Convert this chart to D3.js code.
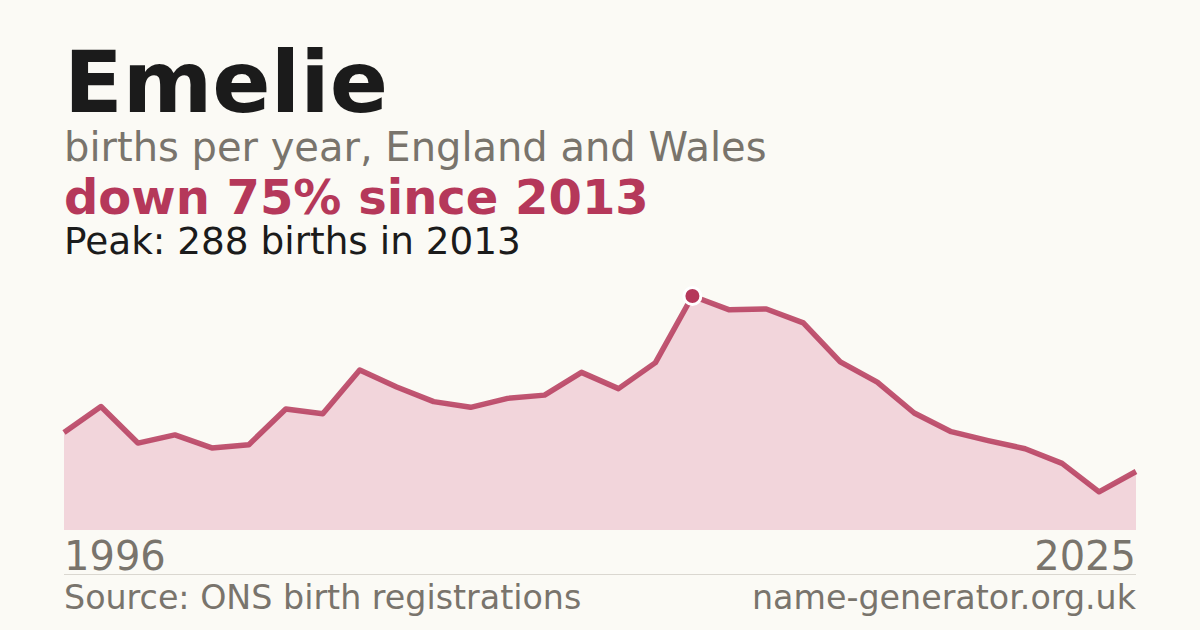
<!DOCTYPE html>
<html>
<head>
<meta charset="utf-8">
<script src="https://cdn.jsdelivr.net/npm/d3@7"></script>
<style>
  html, body { margin: 0; padding: 0; background: #fbfaf5; }
  svg { display: block; font-family: "DejaVu Sans", sans-serif; }
</style>
</head>
<body>
<div id="chart"></div>
<script>
// births per year, 1996..2025
const years = d3.range(1996, 2026);
const births = [120, 152, 107, 117, 101, 105, 149, 143, 197, 176,
                158, 151, 162, 166, 194, 174, 206, 288, 271, 272,
                255, 207, 182, 144, 121, 110, 100, 82, 47, 72];

const nameTitle = "Emelie";
const subtitle = "births per year, England and Wales";
const trendText = "down 75% since 2013";
const peakText = "Peak: 288 births in 2013";
const sourceText = "Source: ONS birth registrations";
const siteText = "name-generator.org.uk";

const width = 1200, height = 630;
const left = 64, right = 1136;
const baseY = 530, peakY = 296;

const svg = d3.select("#chart").append("svg")
    .attr("width", width)
    .attr("height", height)
    .style("background-color", "#fbfaf5");

const data = years.map((y, i) => ({ year: y, value: births[i] }));

const x = d3.scaleLinear().domain(d3.extent(years)).range([left, right]);
const y = d3.scaleLinear().domain([0, d3.max(births)]).range([baseY, peakY]);

// header
svg.append("text").attr("x", left).attr("y", 112)
    .attr("font-size", 86).attr("font-weight", "bold").attr("fill", "#1b1b1b")
    .text(nameTitle);
svg.append("text").attr("x", left).attr("y", 161)
    .attr("font-size", 40).attr("fill", "#79746c")
    .text(subtitle);
svg.append("text").attr("x", left).attr("y", 214)
    .attr("font-size", 48).attr("font-weight", "bold").attr("fill", "#b5385a")
    .text(trendText);
svg.append("text").attr("x", left).attr("y", 254)
    .attr("font-size", 37.4).attr("fill", "#1b1b1b")
    .text(peakText);

// area + line
const area = d3.area()
    .x(d => x(d.year))
    .y0(baseY)
    .y1(d => y(d.value));

const line = d3.line()
    .x(d => x(d.year))
    .y(d => y(d.value));

svg.append("path").datum(data)
    .attr("d", area)
    .attr("fill", "#f2d5db");

svg.append("path").datum(data)
    .attr("d", line)
    .attr("fill", "none")
    .attr("stroke", "#b5385a")
    .attr("stroke-opacity", 0.85)
    .attr("stroke-width", 5.5)
    .attr("stroke-linejoin", "round");

// peak marker
const peak = data.reduce((a, b) => (b.value > a.value ? b : a));
svg.append("circle")
    .attr("cx", x(peak.year))
    .attr("cy", y(peak.value))
    .attr("r", 8.5)
    .attr("fill", "#b5385a")
    .attr("stroke", "#ffffff")
    .attr("stroke-width", 3);

// year labels
svg.append("text").attr("x", left).attr("y", 570)
    .attr("font-size", 40).attr("fill", "#79746c")
    .text(years[0]);
svg.append("text").attr("x", right).attr("y", 570)
    .attr("font-size", 40).attr("fill", "#79746c").attr("text-anchor", "end")
    .text(years[years.length - 1]);

// footer
svg.append("line")
    .attr("x1", left).attr("x2", right)
    .attr("y1", 574.5).attr("y2", 574.5)
    .attr("stroke", "#dad7d0").attr("stroke-width", 1);

svg.append("text").attr("x", left).attr("y", 609)
    .attr("font-size", 33.3).attr("fill", "#79746c")
    .text(sourceText);
svg.append("text").attr("x", right).attr("y", 609)
    .attr("font-size", 33.3).attr("fill", "#79746c").attr("text-anchor", "end")
    .text(siteText);
</script>
</body>
</html>
